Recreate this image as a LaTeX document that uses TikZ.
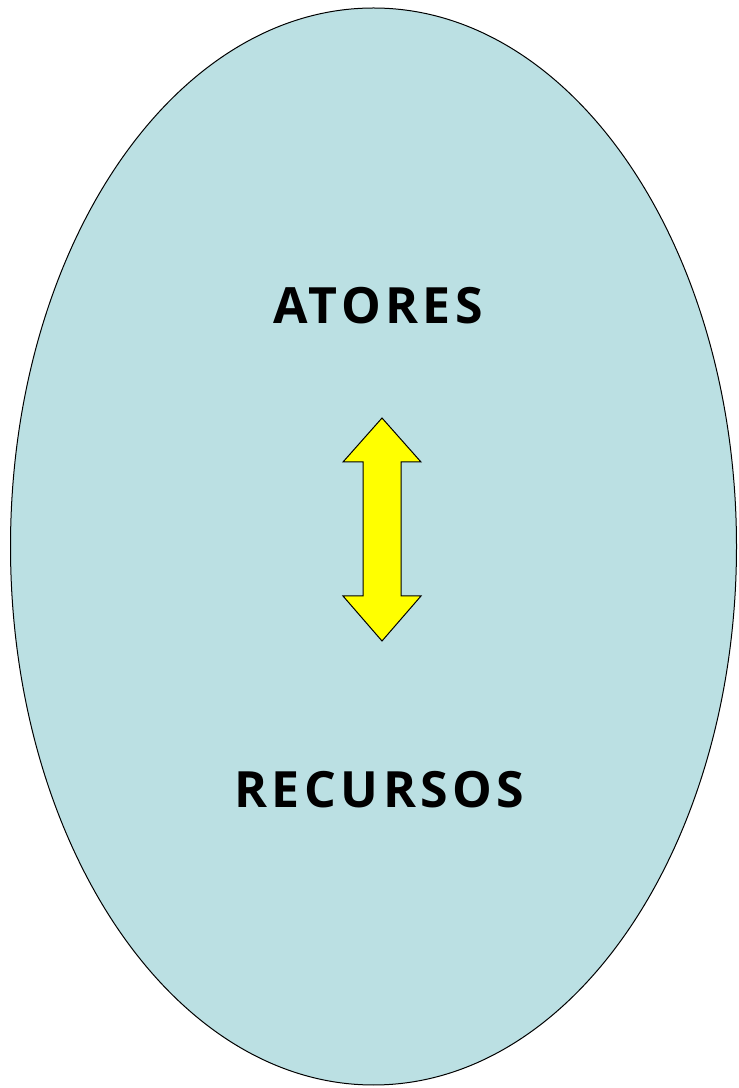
\documentclass[tikz,border=0pt]{standalone}
\usepackage{fontspec}
\usepackage{xcolor}
\usetikzlibrary{shapes.geometric}
\setmainfont{Open Sans}
\newfontfamily\labelfont[LetterSpace=9]{Open Sans Bold}
\definecolor{campoAzul}{RGB}{187, 224, 227}
\definecolor{setaAmarela}{RGB}{255, 255, 0}

\begin{document}
\begin{tikzpicture}[x=1pt, y=1pt]
    \useasboundingbox (0,0) rectangle (739,1088);
    % Campo
    \node[ellipse, draw=black, line width=1pt, fill=campoAzul, minimum width=726pt, minimum height=1077pt, inner sep=0pt] (campo) at (373.5,541.5) {};
    % Textos
    \node[anchor=base, font=\fontsize{50}{50}\labelfont, inner sep=0pt] (atores) at (378,764) {ATORES};
    \node[anchor=base, font=\fontsize{50}{50}\labelfont, inner sep=0pt] (recursos) at (379.5,280) {RECURSOS};
    % Seta
    \draw[fill=setaAmarela, line width=1pt, line join=miter]
        (382,670) -- (421,626) -- (401,626) -- (401,492) -- (421,492) -- (382,447)
        -- (343,492) -- (363,492) -- (363,626) -- (343,626) -- cycle;
\end{tikzpicture}
\end{document}
